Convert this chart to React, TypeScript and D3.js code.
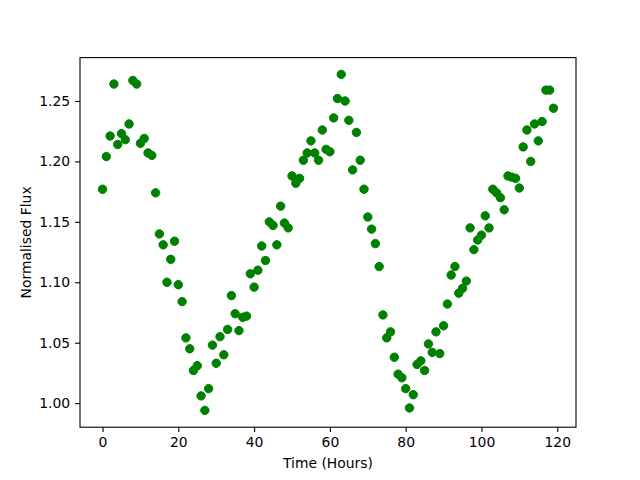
import React, { useRef, useEffect } from 'react';
import * as d3 from 'd3';

// hours since start of observation
const hours = [
  0, 1, 2, 3, 4, 5, 6, 7, 8, 9, 10, 11, 12, 13, 14, 15, 16, 17, 18, 19,
  20, 21, 22, 23, 24, 25, 26, 27, 28, 29, 30, 31, 32, 33, 34, 35, 36, 37, 38, 39,
  40, 41, 42, 43, 44, 45, 46, 47, 48, 49, 50, 51, 52, 53, 54, 55, 56, 57, 58, 59,
  60, 61, 62, 63, 64, 65, 66, 67, 68, 69, 70, 71, 72, 73, 74, 75, 76, 77, 78, 79,
  80, 81, 82, 83, 84, 85, 86, 87, 88, 89, 90, 91, 92, 93, 94, 95, 96, 97, 98, 99,
  100, 101, 102, 103, 104, 105, 106, 107, 108, 109, 110, 111, 112, 113, 114, 115, 116, 117, 118, 119,
];

const flux = [
  1.177, 1.204, 1.221, 1.264, 1.214, 1.223, 1.218, 1.231, 1.267, 1.264,
  1.215, 1.219, 1.207, 1.205, 1.174, 1.140, 1.131, 1.100, 1.119, 1.134,
  1.098, 1.084, 1.054, 1.045, 1.027, 1.031, 1.006, 0.994, 1.012, 1.048,
  1.033, 1.055, 1.040, 1.061, 1.089, 1.074, 1.060, 1.071, 1.072, 1.107,
  1.096, 1.110, 1.130, 1.118, 1.150, 1.147, 1.131, 1.163, 1.149, 1.145,
  1.188, 1.182, 1.186, 1.201, 1.207, 1.217, 1.207, 1.201, 1.226, 1.210,
  1.208, 1.236, 1.252, 1.272, 1.250, 1.234, 1.193, 1.224, 1.201, 1.177,
  1.154, 1.144, 1.132, 1.113, 1.073, 1.054, 1.059, 1.038, 1.024, 1.021,
  1.012, 0.996, 1.007, 1.032, 1.035, 1.027, 1.049, 1.042, 1.059, 1.041,
  1.064, 1.082, 1.106, 1.113, 1.091, 1.095, 1.101, 1.145, 1.127, 1.135,
  1.139, 1.155, 1.145, 1.177, 1.174, 1.170, 1.160, 1.188, 1.187, 1.186,
  1.178, 1.212, 1.226, 1.200, 1.231, 1.217, 1.233, 1.259, 1.259, 1.244,
];

const xTicks = [0, 20, 40, 60, 80, 100, 120];
const yTicks = [1.0, 1.05, 1.1, 1.15, 1.2, 1.25];

const WIDTH = 640;
const HEIGHT = 480;
const margin = { left: 80, right: 64, top: 57.6, bottom: 52.8 };
const FONT = 'DejaVu Sans, sans-serif';

// matplotlib-style 5% padding around the data
const padded = (values: number[]): [number, number] => {
  const [lo, hi] = d3.extent(values) as [number, number];
  const pad = (hi - lo) * 0.05;
  return [lo - pad, hi + pad];
};

const App: React.FC = () => {
  const svgRef = useRef<SVGSVGElement>(null);

  useEffect(() => {
    if (!svgRef.current) return;
    const svg = d3.select(svgRef.current);
    svg.selectAll('*').remove();

    const x = d3.scaleLinear()
      .domain(padded(hours))
      .range([margin.left, WIDTH - margin.right]);
    const y = d3.scaleLinear()
      .domain(padded(flux))
      .range([HEIGHT - margin.bottom, margin.top]);

    const points = hours.map((h, i) => ({ h, f: flux[i] }));

    svg.append('g')
      .selectAll('circle')
      .data(points)
      .join('circle')
      .attr('cx', d => x(d.h))
      .attr('cy', d => y(d.f))
      .attr('r', 4.2)
      .attr('fill', '#008000')
      .attr('stroke', '#008000')
      .attr('stroke-width', 1);

    const xAxis = svg.append('g')
      .attr('transform', `translate(0, ${HEIGHT - margin.bottom})`)
      .call(d3.axisBottom(x).tickValues(xTicks).tickFormat(d3.format('d')).tickSize(4.9).tickPadding(4.9));

    const yAxis = svg.append('g')
      .attr('transform', `translate(${margin.left}, 0)`)
      .call(d3.axisLeft(y).tickValues(yTicks).tickFormat(d3.format('.2f')).tickSize(4.9).tickPadding(4.9));

    [xAxis, yAxis].forEach(ax => {
      ax.select('.domain').remove();
      ax.selectAll('line').attr('stroke', '#000').attr('stroke-width', 1.1);
      ax.selectAll('text')
        .attr('fill', '#000')
        .style('font-family', FONT)
        .style('font-size', '13.9px');
    });

    svg.append('rect')
      .attr('x', margin.left)
      .attr('y', margin.top)
      .attr('width', WIDTH - margin.left - margin.right)
      .attr('height', HEIGHT - margin.top - margin.bottom)
      .attr('fill', 'none')
      .attr('stroke', '#000')
      .attr('stroke-width', 1.1);

    svg.append('text')
      .attr('x', margin.left + (WIDTH - margin.left - margin.right) / 2)
      .attr('y', 468)
      .attr('text-anchor', 'middle')
      .style('font-family', FONT)
      .style('font-size', '13.9px')
      .text('Time (Hours)');

    svg.append('text')
      .attr('transform', `translate(31, ${margin.top + (HEIGHT - margin.top - margin.bottom) / 2}) rotate(-90)`)
      .attr('text-anchor', 'middle')
      .style('font-family', FONT)
      .style('font-size', '13.9px')
      .text('Normalised Flux');
  }, []);

  return (
    <div style={{ position: 'fixed', left: 0, top: 0, background: '#fff' }}>
      <svg ref={svgRef} width={WIDTH} height={HEIGHT} style={{ display: 'block' }} />
    </div>
  );
};

export default App;
